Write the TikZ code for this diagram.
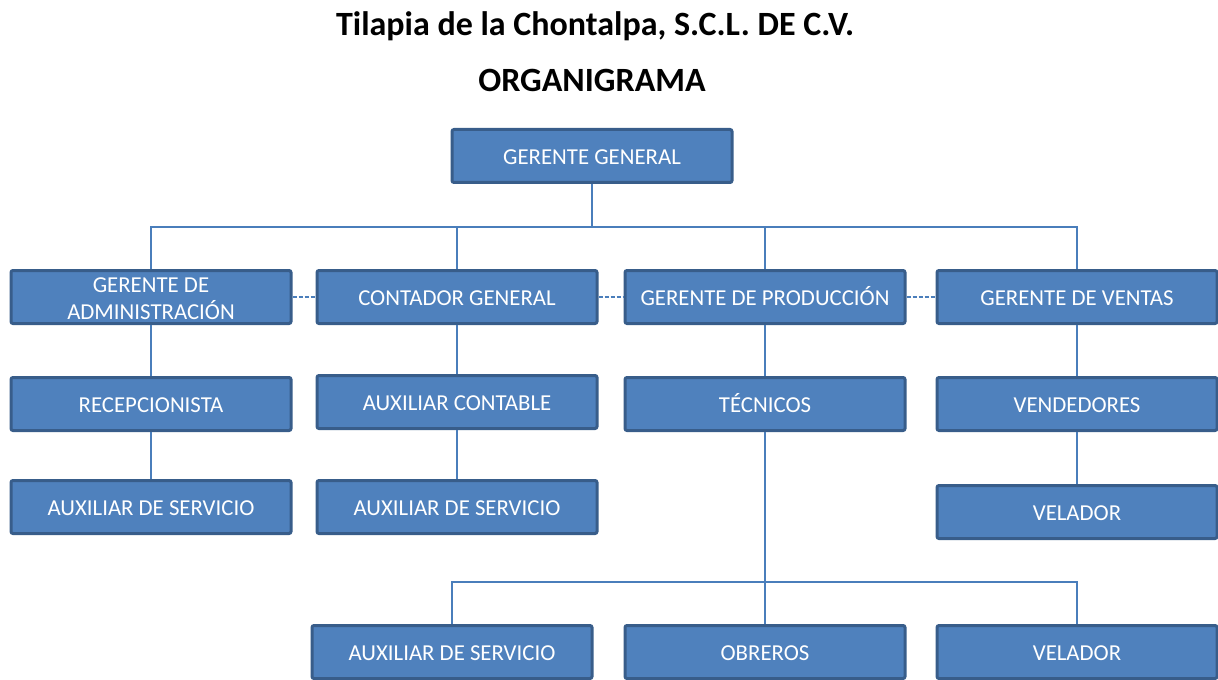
\documentclass[tikz,border=0pt]{standalone}
\usepackage{fontspec}
\setmainfont{Carlito}
\usepackage{tikz}
\usetikzlibrary{positioning,calc}
\definecolor{cajaazul}{RGB}{79, 129, 189}
\definecolor{bordeazul}{RGB}{56, 93, 138}
\definecolor{lineaazul}{RGB}{74, 126, 187}

\begin{document}
\begin{tikzpicture}[x=0.5pt, y=-0.5pt,
    cargo/.style={draw=bordeazul, line width=1.5pt, rounded corners=1pt, rectangle, fill=cajaazul, text=white, minimum width=140pt, minimum height=26.5pt, inner sep=0pt, text height=9pt, text depth=0.5pt, align=center, font=\fontsize{11.4}{13.5}\selectfont},
    enlace/.style={draw=lineaazul, line width=0.6pt},
    punteado/.style={enlace, dash pattern=on 2pt off 1pt},
    titulo/.style={anchor=base, font=\fontsize{17}{20}\selectfont\bfseries}]
    \useasboundingbox (0,0) rectangle (1218,679);

    \node [titulo] (empresa) at (595,36) {Tilapia de la Chontalpa, S.C.L. DE C.V.};
    \node [titulo] (organigrama) at (592,92) {ORGANIGRAMA};

    % direccion
    \node [cargo] (gg) at (592,156) {GERENTE GENERAL};

    % gerencias
    \node [cargo, text height=22.7pt, text depth=0.3pt] (adm) at (151,297) {GERENTE DE\\ADMINISTRACIÓN};
    \node [cargo] (cont) at (457,297) {CONTADOR GENERAL};
    \node [cargo] (prod) at (765,297) {GERENTE DE PRODUCCIÓN};
    \node [cargo] (vent) at (1077,297) {GERENTE DE VENTAS};

    % segundo nivel
    \node [cargo] (recep) at (151,404) {RECEPCIONISTA};
    \node [cargo] (auxcont) at (457,402) {AUXILIAR CONTABLE};
    \node [cargo] (tec) at (765,404) {TÉCNICOS};
    \node [cargo] (vend) at (1077,404) {VENDEDORES};

    % tercer nivel
    \node [cargo] (auxadm) at (151,507) {AUXILIAR DE SERVICIO};
    \node [cargo] (auxcg) at (457,507) {AUXILIAR DE SERVICIO};
    \node [cargo] (velvent) at (1077,512) {VELADOR};

    % produccion
    \node [cargo] (auxprod) at (452,652) {AUXILIAR DE SERVICIO};
    \node [cargo] (obreros) at (765,652) {OBREROS};
    \node [cargo] (velprod) at (1077,652) {VELADOR};

    \coordinate (bus) at (592,227);
    \coordinate (busprod) at (765,582);

    \draw [enlace] (gg.south) -- (bus);
    \draw [enlace] (adm.north) |- (vent.north |- bus) -- (vent.north);
    \foreach \g in {cont,prod}
        \draw [enlace] (\g.north |- bus) -- (\g.north);

    \draw [punteado] (adm.east) -- (cont.west);
    \draw [punteado] (cont.east) -- (prod.west);
    \draw [punteado] (prod.east) -- (vent.west);

    \draw [enlace] (adm) -- (recep);
    \draw [enlace] (recep) -- (auxadm);
    \draw [enlace] (cont) -- (auxcont);
    \draw [enlace] (auxcont) -- (auxcg);
    \draw [enlace] (prod) -- (tec);
    \draw [enlace] (vent) -- (vend);
    \draw [enlace] (vend) -- (velvent);

    \draw [enlace] (tec) -- (obreros);
    \draw [enlace] (auxprod.north) |- (busprod) -| (velprod.north);
\end{tikzpicture}
\end{document}
